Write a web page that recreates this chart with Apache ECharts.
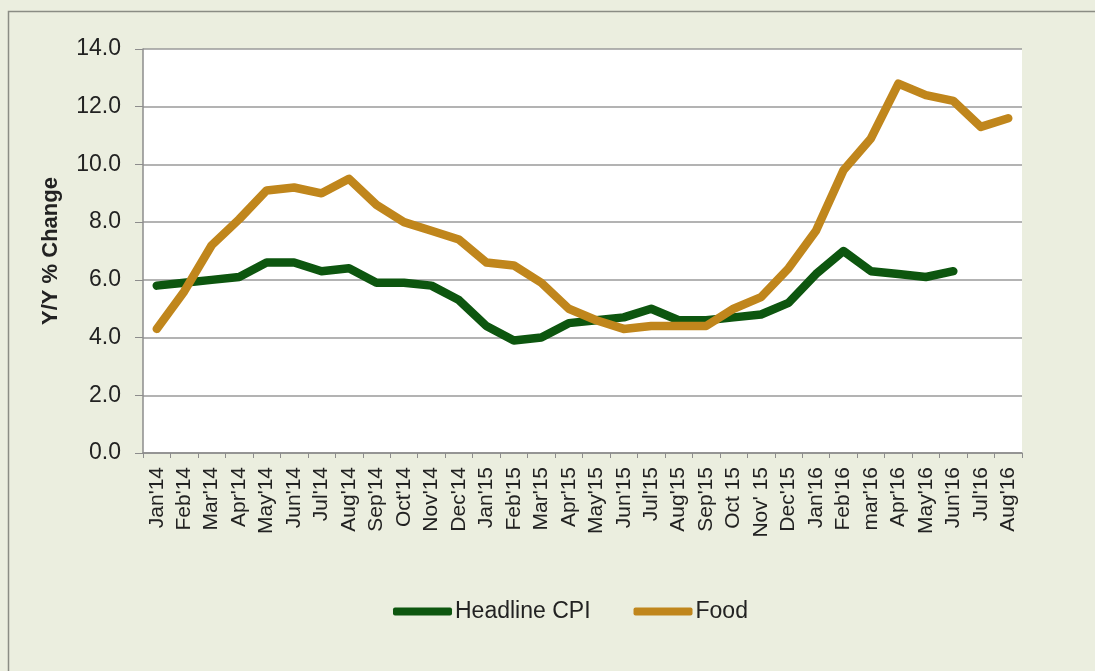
<!DOCTYPE html>
<html>
<head>
<meta charset="utf-8">
<script src="https://cdn.jsdelivr.net/npm/echarts@6/dist/echarts.min.js"></script>
<style>
html,body{margin:0;padding:0;background:#ebeedf;}
#c{width:1095px;height:671px;}
</style>
</head>
<body>
<div id="c"></div>
<script>
const categories = ["Jan'14","Feb'14","Mar'14","Apr'14","May'14","Jun'14","Jul'14","Aug'14","Sep'14","Oct'14","Nov'14","Dec'14","Jan'15","Feb'15","Mar'15","Apr'15","May'15","Jun'15","Jul'15","Aug'15","Sep'15","Oct 15","Nov' 15","Dec'15","Jan'16","Feb'16","mar'16","Apr'16","May'16","Jun'16","Jul'16","Aug'16"];
const headlineCPI = [5.8,5.9,6.0,6.1,6.6,6.6,6.3,6.4,5.9,5.9,5.8,5.3,4.4,3.9,4.0,4.5,4.6,4.7,5.0,4.6,4.6,4.7,4.8,5.2,6.2,7.0,6.3,6.2,6.1,6.3,null,null];
const food = [4.3,5.6,7.2,8.1,9.1,9.2,9.0,9.5,8.6,8.0,7.7,7.4,6.6,6.5,5.9,5.0,4.6,4.3,4.4,4.4,4.4,5.0,5.4,6.4,7.7,9.8,10.9,12.8,12.4,12.2,11.3,11.6];
const yTicks = [0,2,4,6,8,10,12,14];

const chart = echarts.init(document.getElementById('c'));
chart.setOption({
  backgroundColor: '#ebeedf',
  animation: false,
  graphic: [{
    type: 'rect', left: 6, top: 9, silent: true,
    shape: {width: 1095, height: 680},
    style: {fill: 'none', stroke: '#8a8c84', lineWidth: 1.5}
  }],
  grid: {left: 143, top: 49, right: 73, bottom: 218, show: true, backgroundColor: '#ffffff', borderWidth: 0},
  legend: {
    top: 595, left: 388, itemWidth: 59, itemHeight: 8, itemGap: 43,
    icon: 'roundRect',
    textStyle: {fontFamily: 'Liberation Sans, Arial', fontSize: 23, color: '#222', padding: [0,0,0,-2]},
    data: ['Headline CPI', 'Food']
  },
  xAxis: {
    type: 'category', data: categories, boundaryGap: true,
    axisLine: {lineStyle: {color: '#8c8c8c', width: 1.5}},
    axisTick: {show: true, length: 5, lineStyle: {color: '#8c8c8c'}},
    axisLabel: {rotate: 90, interval: 0, fontFamily: 'Liberation Sans, Arial', fontSize: 21, color: '#222', margin: 14}
  },
  yAxis: {
    type: 'value', min: 0, max: 14, interval: 2,
    name: 'Y/Y % Change', nameLocation: 'middle', nameGap: 81, nameRotate: 90,
    nameTextStyle: {fontFamily: 'Liberation Sans, Arial', fontSize: 22, fontWeight: 'bold', color: '#222'},
    axisLine: {show: true, lineStyle: {color: '#8c8c8c', width: 1.5}},
    axisTick: {show: true, inside: false, length: 8, lineStyle: {color: '#8c8c8c'}},
    axisLabel: {fontFamily: 'Liberation Sans, Arial', fontSize: 23, color: '#222', margin: 22,
      formatter: v => yTicks.includes(v) ? v.toFixed(1) : ''},
    splitLine: {lineStyle: {color: '#9a9a9a', width: 1.5}}
  },
  series: [
    {name: 'Headline CPI', type: 'line', data: headlineCPI, showSymbol: false, symbol: 'none',
     lineStyle: {color: '#0d560f', width: 8.5, cap: 'round', join: 'round'}, itemStyle: {color: '#0d560f'}},
    {name: 'Food', type: 'line', data: food, showSymbol: false, symbol: 'none',
     lineStyle: {color: '#c0861c', width: 8.5, cap: 'round', join: 'round'}, itemStyle: {color: '#c0861c'}}
  ]
});
</script>
</body>
</html>
